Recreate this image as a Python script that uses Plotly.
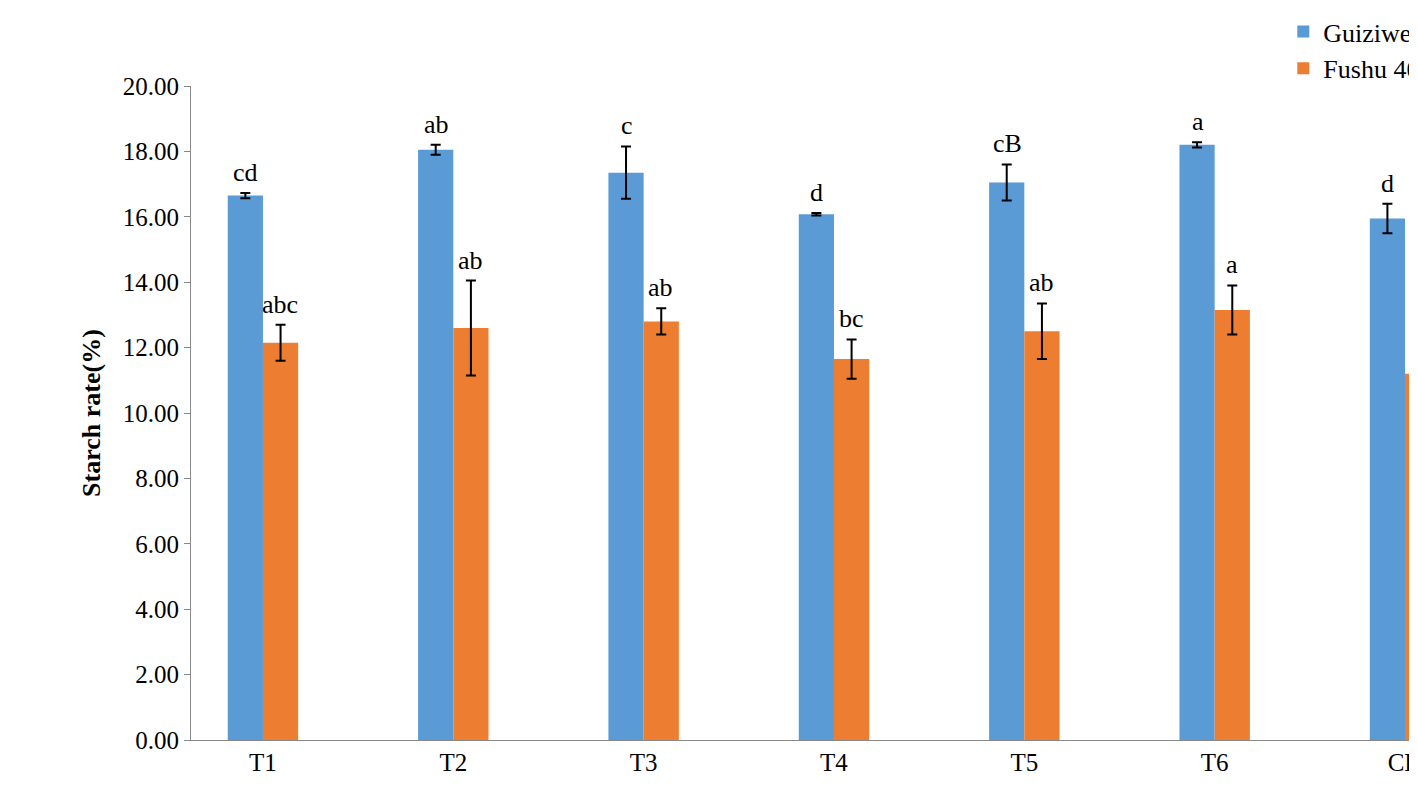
import plotly.graph_objects as go

categories = ["T1", "T2", "T3", "T4", "T5", "T6", "CK"]
guizi = [16.65, 18.05, 17.35, 16.08, 17.05, 18.20, 15.95]
guizi_err = [0.08, 0.15, 0.80, 0.04, 0.55, 0.08, 0.45]
guizi_lbl = ["cd", "ab", "c", "d", "cB", "a", "d"]
fushu = [12.15, 12.60, 12.80, 11.65, 12.50, 13.15, 11.20]
fushu_err = [0.55, 1.45, 0.40, 0.60, 0.85, 0.75, 0.30]
fushu_lbl = ["abc", "ab", "ab", "bc", "ab", "a", "c"]

font = "Liberation Serif, Times New Roman, serif"
err = lambda e: dict(type="data", array=e, color="black", thickness=2, width=5)

fig = go.Figure()
fig.add_trace(go.Bar(x=categories, y=guizi, name="Guiziweishu 1", marker_color="#5B9BD5",
                     marker_line_width=0, error_y=err(guizi_err)))
fig.add_trace(go.Bar(x=categories, y=fushu, name="Fushu 404", marker_color="#ED7D31",
                     marker_line_width=0, error_y=err(fushu_err)))

# significance letters above error bars
for vals, errs, lbls, off in [(guizi, guizi_err, guizi_lbl, -0.09), (fushu, fushu_err, fushu_lbl, 0.09)]:
    for i, (v, e, t) in enumerate(zip(vals, errs, lbls)):
        fig.add_annotation(x=i + off, y=v + e, text=t, showarrow=False, yanchor="bottom",
                           yshift=4, font=dict(size=26, family=font, color="black"))

fig.update_layout(
    width=1417, height=792,
    margin=dict(l=183, r=0, t=78, b=60, autoexpand=False),
    paper_bgcolor="white", plot_bgcolor="white",
    barmode="group", bargap=0.63, bargroupgap=0,
    font=dict(family=font, size=24, color="black"),
    xaxis=dict(range=[-0.378, 6.105], showline=True, linecolor="#888", ticks="",
               tickfont=dict(size=25, family=font)),
    yaxis=dict(range=[0, 20], dtick=2, tickformat=".2f", showgrid=False,
               showline=True, linecolor="#888", ticks="outside", ticklen=6, tickcolor="#888",
               title=dict(text="<b>Starch rate(%)</b>", font=dict(size=26, family=font), standoff=14),
               tickfont=dict(size=25, family=font)),
    legend=dict(x=0.9, y=1.0, xref="container", yref="container", xanchor="left", yanchor="top",
                font=dict(size=26, family=font), tracegroupgap=22),
)
fig.write_html("out.html")
